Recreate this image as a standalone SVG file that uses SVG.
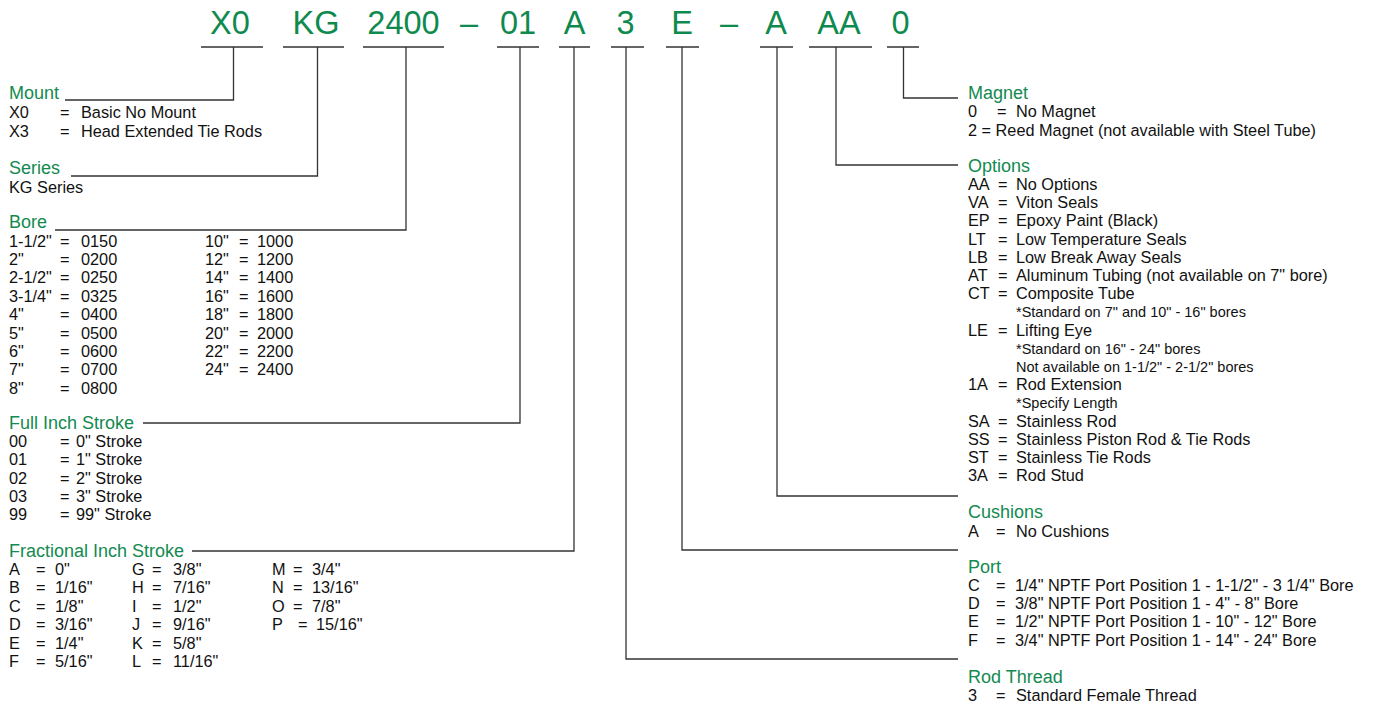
<svg xmlns="http://www.w3.org/2000/svg" width="1374" height="707" viewBox="0 0 1374 707">
<style>
text{font-family:"Liberation Sans",Arial,sans-serif;}
.c{font-size:32.5px;fill:#0f8a4f;text-anchor:middle;}
.h{font-size:18px;fill:#138a50;}
.b{font-size:16.3px;fill:#111;}
.n{font-size:14.5px;fill:#111;}
.ln{fill:none;stroke:#333;stroke-width:1.3;}
</style>
<rect width="1374" height="707" fill="#fff"/>
<g id="code">
<text class="c" x="230" y="33.5">X0</text>
<text class="c" x="316" y="33.5">KG</text>
<text class="c" x="403.5" y="33.5">2400</text>
<text class="c" x="469" y="33.5">–</text>
<text class="c" x="518" y="33.5">01</text>
<text class="c" x="574.5" y="33.5">A</text>
<text class="c" x="625.5" y="33.5">3</text>
<text class="c" x="682" y="33.5">E</text>
<text class="c" x="729" y="33.5">–</text>
<text class="c" x="776" y="33.5">A</text>
<text class="c" x="839" y="33.5">AA</text>
<text class="c" x="900.5" y="33.5">0</text>
</g>
<g id="connectors" class="ln">
<path d="M201 47H263M233.5 47V100H65"/>
<path d="M283 47H344M317.5 47V176H71"/>
<path d="M363 47H444M406 47V230H55"/>
<path d="M497 47H539M520 47V423H143"/>
<path d="M559 47H590M574 47V551H192"/>
<path d="M611 47H644M626 47V659H958"/>
<path d="M666 47H699M682 47V550H958"/>
<path d="M760 47H793M777 47V496H958"/>
<path d="M809 47H872M836 47V165H958"/>
<path d="M887 47H919M903.5 47V98H958"/>
</g>
<g id="mount">
<text class="h" x="9" y="99">Mount</text>
<text class="b" y="118"><tspan x="9">X0</tspan><tspan x="60">=</tspan><tspan x="81">Basic No Mount</tspan></text>
<text class="b" y="136.5"><tspan x="9">X3</tspan><tspan x="60">=</tspan><tspan x="81">Head Extended Tie Rods</tspan></text>
</g>
<g id="series">
<text class="h" x="9" y="174">Series</text>
<text class="b" x="9" y="193">KG Series</text>
</g>
<g id="bore">
<text class="h" x="9" y="228">Bore</text>
<text class="b" y="246.5"><tspan x="9">1-1/2"</tspan><tspan x="60">=</tspan><tspan x="81">0150</tspan><tspan x="205">10"</tspan><tspan x="239">=</tspan><tspan x="257">1000</tspan></text>
<text class="b" y="264.9"><tspan x="9">2"</tspan><tspan x="60">=</tspan><tspan x="81">0200</tspan><tspan x="205">12"</tspan><tspan x="239">=</tspan><tspan x="257">1200</tspan></text>
<text class="b" y="283.3"><tspan x="9">2-1/2"</tspan><tspan x="60">=</tspan><tspan x="81">0250</tspan><tspan x="205">14"</tspan><tspan x="239">=</tspan><tspan x="257">1400</tspan></text>
<text class="b" y="301.7"><tspan x="9">3-1/4"</tspan><tspan x="60">=</tspan><tspan x="81">0325</tspan><tspan x="205">16"</tspan><tspan x="239">=</tspan><tspan x="257">1600</tspan></text>
<text class="b" y="320.1"><tspan x="9">4"</tspan><tspan x="60">=</tspan><tspan x="81">0400</tspan><tspan x="205">18"</tspan><tspan x="239">=</tspan><tspan x="257">1800</tspan></text>
<text class="b" y="338.5"><tspan x="9">5"</tspan><tspan x="60">=</tspan><tspan x="81">0500</tspan><tspan x="205">20"</tspan><tspan x="239">=</tspan><tspan x="257">2000</tspan></text>
<text class="b" y="356.9"><tspan x="9">6"</tspan><tspan x="60">=</tspan><tspan x="81">0600</tspan><tspan x="205">22"</tspan><tspan x="239">=</tspan><tspan x="257">2200</tspan></text>
<text class="b" y="375.3"><tspan x="9">7"</tspan><tspan x="60">=</tspan><tspan x="81">0700</tspan><tspan x="205">24"</tspan><tspan x="239">=</tspan><tspan x="257">2400</tspan></text>
<text class="b" y="393.7"><tspan x="9">8"</tspan><tspan x="60">=</tspan><tspan x="81">0800</tspan></text>
</g>
<g id="full-inch-stroke">
<text class="h" x="9" y="429">Full Inch Stroke</text>
<text class="b" y="446.7"><tspan x="9">00</tspan><tspan x="60">=</tspan><tspan x="76">0" Stroke</tspan></text>
<text class="b" y="465.1"><tspan x="9">01</tspan><tspan x="60">=</tspan><tspan x="76">1" Stroke</tspan></text>
<text class="b" y="483.5"><tspan x="9">02</tspan><tspan x="60">=</tspan><tspan x="76">2" Stroke</tspan></text>
<text class="b" y="501.9"><tspan x="9">03</tspan><tspan x="60">=</tspan><tspan x="76">3" Stroke</tspan></text>
<text class="b" y="520.3"><tspan x="9">99</tspan><tspan x="60">=</tspan><tspan x="76">99" Stroke</tspan></text>
</g>
<g id="fractional-inch-stroke">
<text class="h" x="9" y="557">Fractional Inch Stroke</text>
<text class="b" y="575"><tspan x="9">A</tspan><tspan x="36">=</tspan><tspan x="55">0"</tspan><tspan x="132">G</tspan><tspan x="152">=</tspan><tspan x="173">3/8"</tspan><tspan x="272">M</tspan><tspan x="293">=</tspan><tspan x="312">3/4"</tspan></text>
<text class="b" y="593.4"><tspan x="9">B</tspan><tspan x="36">=</tspan><tspan x="55">1/16"</tspan><tspan x="132">H</tspan><tspan x="152">=</tspan><tspan x="173">7/16"</tspan><tspan x="272">N</tspan><tspan x="293">=</tspan><tspan x="312">13/16"</tspan></text>
<text class="b" y="611.8"><tspan x="9">C</tspan><tspan x="36">=</tspan><tspan x="55">1/8"</tspan><tspan x="132">I</tspan><tspan x="152">=</tspan><tspan x="173">1/2"</tspan><tspan x="272">O</tspan><tspan x="293">=</tspan><tspan x="312">7/8"</tspan></text>
<text class="b" y="630.2"><tspan x="9">D</tspan><tspan x="36">=</tspan><tspan x="55">3/16"</tspan><tspan x="132">J</tspan><tspan x="152">=</tspan><tspan x="173">9/16"</tspan><tspan x="272">P</tspan><tspan x="298">=</tspan><tspan x="316">15/16"</tspan></text>
<text class="b" y="648.6"><tspan x="9">E</tspan><tspan x="36">=</tspan><tspan x="55">1/4"</tspan><tspan x="132">K</tspan><tspan x="152">=</tspan><tspan x="173">5/8"</tspan></text>
<text class="b" y="667"><tspan x="9">F</tspan><tspan x="36">=</tspan><tspan x="55">5/16"</tspan><tspan x="132">L</tspan><tspan x="152">=</tspan><tspan x="173">11/16"</tspan></text>
</g>
<g id="magnet">
<text class="h" x="968" y="99">Magnet</text>
<text class="b" y="117"><tspan x="968">0</tspan><tspan x="997">=</tspan><tspan x="1016">No Magnet</tspan></text>
<text class="b" x="968" y="135.5">2 = Reed Magnet (not available with Steel Tube)</text>
</g>
<g id="options">
<text class="h" x="968" y="172">Options</text>
<text class="b" y="190"><tspan x="968">AA</tspan><tspan x="998">=</tspan><tspan x="1016">No Options</tspan></text>
<text class="b" y="208.2"><tspan x="968">VA</tspan><tspan x="998">=</tspan><tspan x="1016">Viton Seals</tspan></text>
<text class="b" y="226.4"><tspan x="968">EP</tspan><tspan x="998">=</tspan><tspan x="1016">Epoxy Paint (Black)</tspan></text>
<text class="b" y="244.6"><tspan x="968">LT</tspan><tspan x="998">=</tspan><tspan x="1016">Low Temperature Seals</tspan></text>
<text class="b" y="262.8"><tspan x="968">LB</tspan><tspan x="998">=</tspan><tspan x="1016">Low Break Away Seals</tspan></text>
<text class="b" y="281"><tspan x="968">AT</tspan><tspan x="998">=</tspan><tspan x="1016">Aluminum Tubing (not available on 7" bore)</tspan></text>
<text class="b" y="299.2"><tspan x="968">CT</tspan><tspan x="998">=</tspan><tspan x="1016">Composite Tube</tspan></text>
<text class="n" x="1016" y="317.4">*Standard on 7" and 10" - 16" bores</text>
<text class="b" y="335.6"><tspan x="968">LE</tspan><tspan x="998">=</tspan><tspan x="1016">Lifting Eye</tspan></text>
<text class="n" x="1016" y="353.8">*Standard on 16" - 24" bores</text>
<text class="n" x="1016" y="372">Not available on 1-1/2" - 2-1/2" bores</text>
<text class="b" y="390.2"><tspan x="968">1A</tspan><tspan x="998">=</tspan><tspan x="1016">Rod Extension</tspan></text>
<text class="n" x="1016" y="408.4">*Specify Length</text>
<text class="b" y="426.6"><tspan x="968">SA</tspan><tspan x="998">=</tspan><tspan x="1016">Stainless Rod</tspan></text>
<text class="b" y="444.8"><tspan x="968">SS</tspan><tspan x="998">=</tspan><tspan x="1016">Stainless Piston Rod &amp; Tie Rods</tspan></text>
<text class="b" y="463"><tspan x="968">ST</tspan><tspan x="998">=</tspan><tspan x="1016">Stainless Tie Rods</tspan></text>
<text class="b" y="481.2"><tspan x="968">3A</tspan><tspan x="998">=</tspan><tspan x="1016">Rod Stud</tspan></text>
</g>
<g id="cushions">
<text class="h" x="968" y="518">Cushions</text>
<text class="b" y="536.7"><tspan x="968">A</tspan><tspan x="996">=</tspan><tspan x="1016">No Cushions</tspan></text>
</g>
<g id="port">
<text class="h" x="968" y="573">Port</text>
<text class="b" y="590.5"><tspan x="968">C</tspan><tspan x="996">=</tspan><tspan x="1015">1/4" NPTF Port Position 1 - 1-1/2" - 3 1/4" Bore</tspan></text>
<text class="b" y="608.9"><tspan x="968">D</tspan><tspan x="996">=</tspan><tspan x="1015">3/8" NPTF Port Position 1 - 4" - 8" Bore</tspan></text>
<text class="b" y="627.3"><tspan x="968">E</tspan><tspan x="996">=</tspan><tspan x="1015">1/2" NPTF Port Position 1 - 10" - 12" Bore</tspan></text>
<text class="b" y="645.7"><tspan x="968">F</tspan><tspan x="996">=</tspan><tspan x="1015">3/4" NPTF Port Position 1 - 14" - 24" Bore</tspan></text>
</g>
<g id="rod-thread">
<text class="h" x="968" y="683">Rod Thread</text>
<text class="b" y="700.5"><tspan x="968">3</tspan><tspan x="996">=</tspan><tspan x="1016">Standard Female Thread</tspan></text>
</g>
</svg>
